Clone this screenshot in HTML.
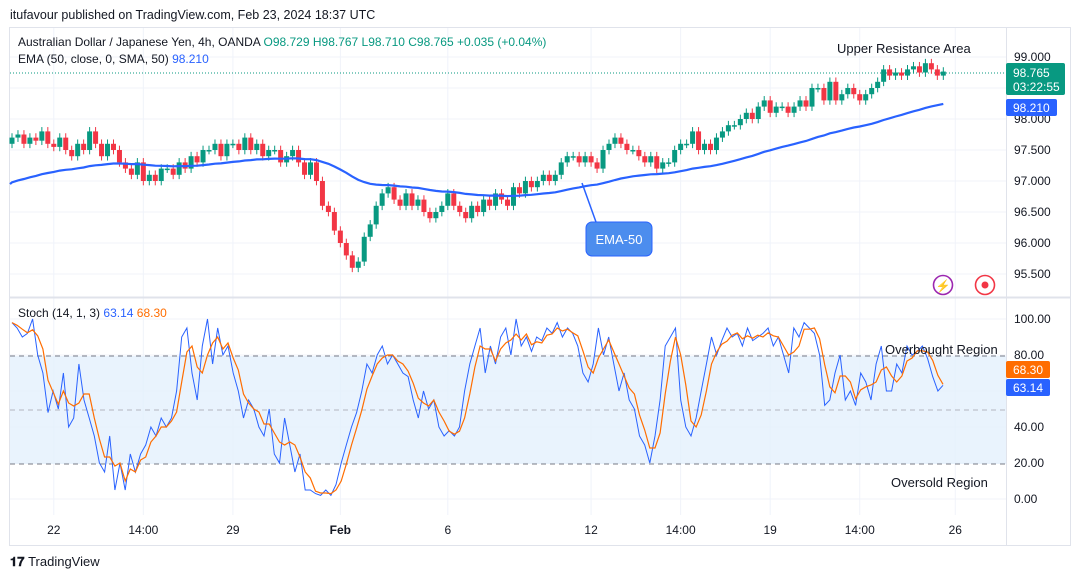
<!DOCTYPE html>
<html><head><meta charset="utf-8"><style>
body{margin:0;width:1080px;height:579px;background:#fff;font-family:"Liberation Sans",sans-serif;overflow:hidden}
svg text{font-family:"Liberation Sans",sans-serif}
</style></head><body>
<svg width="1080" height="579">
<text x="10" y="19" font-size="12.5" fill="#131722">itufavour published on TradingView.com, Feb 23, 2024 18:37 UTC</text>
<rect x="9.5" y="27.5" width="1061" height="518" fill="none" stroke="#e0e3eb"/>
<g id="grid"></g>
<rect x="10" y="356" width="996" height="108" fill="#e3f0fc" opacity="0.8"/>
<line x1="10" x2="1006" y1="356" y2="356" stroke="#787b86" stroke-dasharray="5,4"/>
<line x1="10" x2="1006" y1="410" y2="410" stroke="#b2b5be" stroke-dasharray="5,4"/>
<line x1="10" x2="1006" y1="464" y2="464" stroke="#787b86" stroke-dasharray="5,4"/>
<line x1="10" x2="1070" y1="297.5" y2="297.5" stroke="#e0e3eb" stroke-width="2"/>
<line x1="1006.5" x2="1006.5" y1="27" y2="545" stroke="#e0e3eb"/>
<line x1="10" x2="1006" y1="73" y2="73" stroke="#089981" stroke-dasharray="1,2"/>
<g id="candles"></g>
<path id="ema" fill="none" stroke="#2962ff" stroke-width="2.2"/>
<path id="kline" fill="none" stroke="#2962ff" stroke-width="1"/>
<path id="dline" fill="none" stroke="#ff6d00" stroke-width="1.2"/>
<g id="paxis" font-size="12" fill="#131722"></g>
<g id="saxis" font-size="12" fill="#131722"></g>
<g id="taxis" font-size="12" fill="#131722" text-anchor="middle"></g>
<text x="18" y="46" font-size="12" fill="#131722">Australian Dollar / Japanese Yen, 4h, OANDA <tspan fill="#089981">O98.729  H98.767  L98.710  C98.765  +0.035 (+0.04%)</tspan></text>
<text x="18" y="63" font-size="12" fill="#131722">EMA (50, close, 0, SMA, 50) <tspan fill="#2962ff">98.210</tspan></text>
<text x="18" y="317" font-size="12" fill="#131722">Stoch (14, 1, 3) <tspan fill="#2962ff">63.14</tspan> <tspan fill="#ff6d00">68.30</tspan></text>
<text x="837" y="53" font-size="13" fill="#131722">Upper Resistance Area</text>
<text x="885" y="354" font-size="13" fill="#131722">Overbought Region</text>
<text x="891" y="487" font-size="13" fill="#131722">Oversold Region</text>
<path d="M582,183 L596,222" stroke="#2962ff" stroke-width="1.5"/>
<rect x="586" y="222" width="66" height="34" rx="6" fill="#4c8dee" stroke="#2962ff"/>
<text x="619" y="244" font-size="13" fill="#fff" text-anchor="middle">EMA-50</text>
<circle cx="943" cy="285" r="9.5" fill="none" stroke="#9c27b0" stroke-width="1.6"/>
<text x="943" y="290" font-size="12" fill="#9c27b0" text-anchor="middle">⚡</text>
<circle cx="985" cy="285" r="9.5" fill="none" stroke="#f23645" stroke-width="1.6"/>
<circle cx="985" cy="285" r="3.5" fill="#f23645"/>
<rect x="1006" y="63" width="59" height="32" rx="2" fill="#089981"/>
<text x="1013" y="77" font-size="12" fill="#fff">98.765</text>
<text x="1013" y="91" font-size="12" fill="#fff">03:22:55</text>
<rect x="1006" y="99" width="51" height="17" rx="2" fill="#2962ff"/>
<text x="1013" y="112" font-size="12" fill="#fff">98.210</text>
<rect x="1006" y="361" width="44" height="17" rx="2" fill="#ff6d00"/>
<text x="1013" y="374" font-size="12" fill="#fff">68.30</text>
<rect x="1006" y="379" width="44" height="17" rx="2" fill="#2962ff"/>
<text x="1013" y="392" font-size="12" fill="#fff">63.14</text>
<text x="10" y="566" font-size="13" font-weight="bold" fill="#131722">𝟏𝟕 <tspan font-weight="normal">TradingView</tspan></text>
</svg>
<script>
const closes=[97.7,97.75,97.6,97.7,97.65,97.8,97.6,97.55,97.7,97.5,
97.4,97.6,97.5,97.8,97.6,97.4,97.6,97.5,97.3,97.2,
97.1,97.3,97.0,97.1,97.0,97.2,97.2,97.1,97.3,97.2,
97.4,97.3,97.5,97.5,97.6,97.4,97.6,97.6,97.5,97.7,
97.5,97.6,97.4,97.5,97.5,97.3,97.4,97.5,97.3,97.1,
97.3,97.0,96.6,96.5,96.2,96.0,95.8,95.6,95.7,96.1,
96.3,96.6,96.8,96.9,96.7,96.6,96.8,96.6,96.7,96.5,
96.4,96.5,96.6,96.8,96.6,96.5,96.4,96.6,96.5,96.7,
96.6,96.8,96.7,96.6,96.9,96.8,97.0,96.9,97.0,97.1,
97.0,97.1,97.3,97.4,97.4,97.3,97.4,97.3,97.2,97.5,
97.6,97.7,97.6,97.5,97.5,97.4,97.3,97.4,97.2,97.3,
97.3,97.5,97.6,97.6,97.8,97.5,97.6,97.5,97.7,97.8,
97.9,97.9,98.0,98.1,98.0,98.2,98.3,98.1,98.2,98.2,
98.1,98.2,98.3,98.2,98.5,98.5,98.3,98.6,98.3,98.4,
98.5,98.4,98.3,98.4,98.5,98.6,98.8,98.7,98.75,98.7,
98.8,98.85,98.75,98.9,98.8,98.7,98.765];
const firstOpen=97.6;
const emaSeed=96.95;
const kValues=[98,95,90,92,100,80,70,48,60,50,70,40,45,75,55,45,35,20,15,35,5,20,5,25,15,25,30,40,35,45,40,45,60,90,95,70,55,85,100,75,95,80,85,70,60,45,55,50,40,35,50,25,20,45,30,15,25,5,5,3,2,5,2,8,20,30,40,48,60,75,70,80,85,75,80,75,70,68,55,45,60,50,55,40,35,38,35,40,60,75,85,95,70,85,75,90,95,80,100,85,90,82,90,88,95,92,98,90,95,92,85,70,65,75,95,80,90,75,60,70,55,50,35,30,20,35,55,85,90,95,55,40,35,45,60,75,90,80,88,95,90,92,85,95,88,90,92,95,85,90,80,70,95,90,98,95,92,80,52,55,70,80,55,60,52,70,65,55,75,85,60,60,75,70,85,80,82,85,78,68,60,63.14];
const priceTicks=["99.000","98.500","98.000","97.500","97.000","96.500","96.000","95.500"];
const stochTicks=["100.00","80.00","60.00","40.00","20.00","0.00"];
const timeLabels=["22","14:00","29","Feb","6","12","14:00","19","14:00","26"];
const timeIdx=[7,22,37,55,73,97,112,127,142,158];

const NS="http://www.w3.org/2000/svg";
function mk(t,a,p){const e=document.createElementNS(NS,t);for(const k in a)e.setAttribute(k,a[k]);p.appendChild(e);return e;}
const yP=p=>57+(99-p)*62;
const yS=v=>499-v*1.8;
const x0=12,dx=5.97;
const xC=i=>x0+i*dx;
const grid=document.getElementById('grid');
priceTicks.forEach(t=>{const y=yP(+t);
 const l=mk('line',{x1:10,x2:1006,y1:y,y2:y,stroke:'#f0f3fa'},grid);
 const tx=mk('text',{x:1014,y:y+4},document.getElementById('paxis'));tx.textContent=t;});
stochTicks.forEach(t=>{const y=yS(+t);
 const l=mk('line',{x1:10,x2:1006,y1:y,y2:y,stroke:'#f0f3fa'},grid);
 const tx=mk('text',{x:1014,y:y+4},document.getElementById('saxis'));tx.textContent=t;});
timeLabels.forEach((t,j)=>{const x=xC(timeIdx[j]);
 const l=mk('line',{x1:x,x2:x,y1:28,y2:515,stroke:'#f0f3fa'},grid);
 const tx=mk('text',{x:x,y:534,'font-weight':t==='Feb'?'bold':'normal'},document.getElementById('taxis'));tx.textContent=t;});
const cg=document.getElementById('candles');
let prev=firstOpen;
closes.forEach((c,i)=>{const o=prev;prev=c;const up=c>=o;const col=up?'#089981':'#f23645';
 const hi=Math.max(o,c)+0.07,lo=Math.min(o,c)-0.07;const x=xC(i);
 const w=mk('line',{x1:x,x2:x,y1:yP(hi),y2:yP(lo),stroke:col},cg);
 const b=mk('rect',{x:x-2.5,y:yP(Math.max(o,c)),width:5,height:Math.max(1.5,Math.abs(yP(o)-yP(c))),fill:col},cg);});
let e=emaSeed,a=2/51,d='';
closes.forEach((c,i)=>{e=e+a*(c-e);d+=(i?'L':'M')+xC(i).toFixed(1)+','+yP(e).toFixed(1);});
document.getElementById('ema').setAttribute('d','M10,'+yP(emaSeed).toFixed(1)+d.replace('M','L'));
const kdx=(943-12)/(kValues.length-1);
let kd='',dd='';
kValues.forEach((v,i)=>{const x=(12+i*kdx).toFixed(1);kd+=(i?'L':'M')+x+','+yS(v).toFixed(1);
 const s=kValues.slice(Math.max(0,i-2),i+1);const m=s.reduce((p,q)=>p+q,0)/s.length;dd+=(i?'L':'M')+x+','+yS(m).toFixed(1);});
document.getElementById('kline').setAttribute('d',kd);
document.getElementById('dline').setAttribute('d',dd);
</script>
</body></html>
